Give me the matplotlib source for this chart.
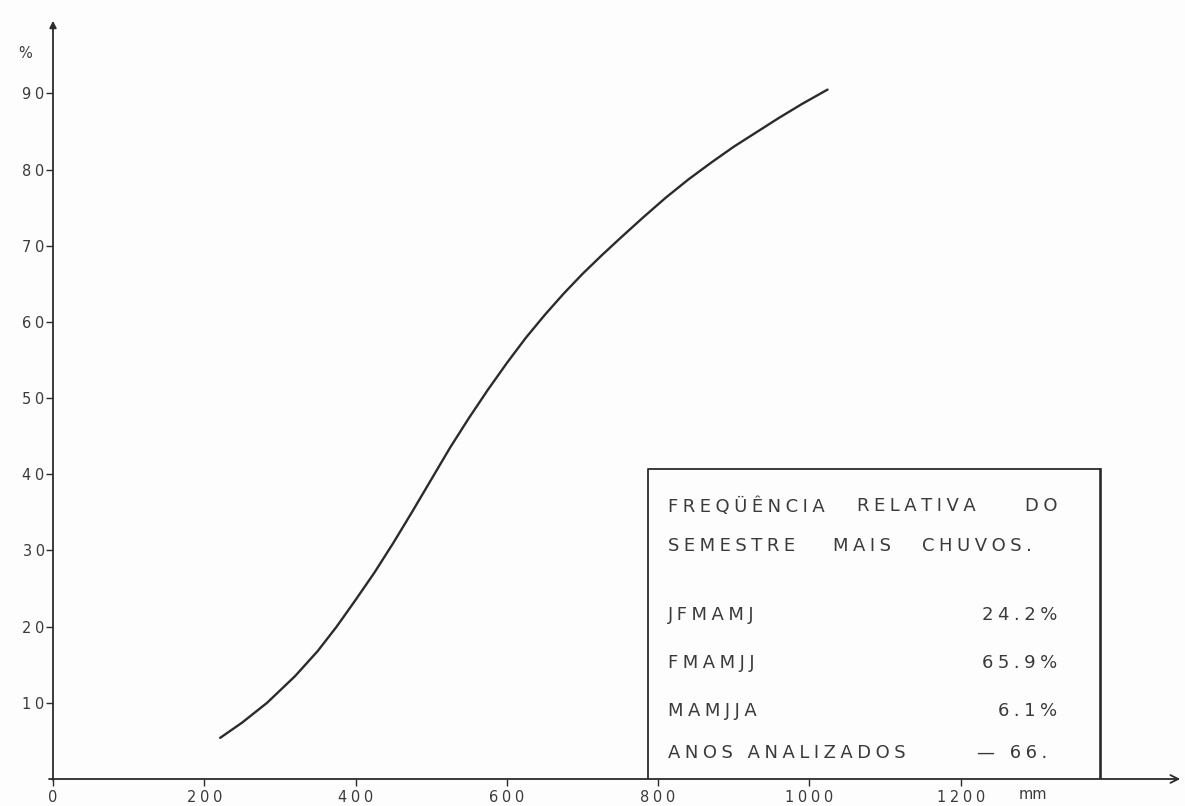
import matplotlib.pyplot as plt

# cumulative frequency curve (mm of rain, % of years)
rain_mm = [221, 250, 283, 320, 350, 375, 400, 425, 450, 475, 500, 525, 550,
           575, 600, 625, 650, 675, 700, 725, 750, 780, 810, 840, 870, 900,
           930, 960, 990, 1024]
freq_pct = [5.4, 7.4, 10.0, 13.5, 16.8, 20.0, 23.5, 27.1, 31.0, 35.1, 39.3,
            43.5, 47.4, 51.1, 54.6, 57.9, 60.9, 63.7, 66.3, 68.7, 71.0, 73.7,
            76.3, 78.7, 80.9, 83.0, 84.9, 86.8, 88.6, 90.5]

x_ticks = [0, 200, 400, 600, 800, 1000, 1200]
y_ticks = [10, 20, 30, 40, 50, 60, 70, 80, 90]

box_title = ['FREQÜÊNCIA', 'RELATIVA', 'DO']
box_title2 = ['SEMESTRE', 'MAIS', 'CHUVOS.']
semesters = ['JFMAMJ', 'FMAMJJ', 'MAMJJA']
semester_pct = ['24.2%', '65.9%', '6.1%']
years_label = 'ANOS ANALIZADOS'
years_value = '— 66.'

INK = '#2b2b2b'
TXT = '#3a3a3a'


def spaced(s, sp='\u2005'):
    # wide stencil-like lettering
    return sp.join(s)


fig = plt.figure(figsize=(11.85, 8.06), dpi=100, facecolor='#fdfdfd')
ax = fig.add_axes([53 / 1185, 27 / 806, 1130 / 1185, 761 / 806])
ax.set_facecolor('#fdfdfd')
ax.set_xlim(0, 1494)
ax.set_ylim(0, 99.9)

for side in ['top', 'right', 'left', 'bottom']:
    ax.spines[side].set_visible(False)

# axes drawn as arrows
ax.annotate('', xy=(1.0, 0), xytext=(-0.006, 0), xycoords='axes fraction',
            arrowprops=dict(arrowstyle='->', color=INK, lw=1.3,
                            mutation_scale=14))
ax.annotate('', xy=(0, 1.0), xytext=(0, -0.005), xycoords='axes fraction',
            arrowprops=dict(arrowstyle='-|>', color=INK, lw=1.3,
                            mutation_scale=10))

ax.set_xticks(x_ticks)
ax.set_xticklabels([spaced(str(v)) for v in x_ticks])
ax.set_yticks(y_ticks)
ax.set_yticklabels([spaced(str(v)) for v in y_ticks])
ax.tick_params(axis='x', direction='out', length=5, width=1.0, color=INK,
               labelsize=10.5, labelcolor=TXT, pad=3)
ax.tick_params(axis='y', direction='out', length=5, width=1.0, color=INK,
               labelsize=10.5, labelcolor=TXT, pad=1)

ax.text(-37, 95.3, '%', fontsize=10.5, color=TXT, ha='center', va='center',
        clip_on=False)
ax.text(1295, -2.1, 'mm', fontsize=10.5, color=TXT, ha='center', va='center',
        clip_on=False)

# the curve
ax.plot(rain_mm, freq_pct, color=INK, lw=1.7, solid_capstyle='round')

# info box (bottom edge is the x axis)
bx0, bx1, btop = 787, 1384, 40.7
ax.plot([bx0, bx0, bx1], [0, btop, btop], color=INK, lw=1.3)
ax.plot([bx1, bx1], [btop, 0], color=INK, lw=1.9)

fs = 13
sp = '\u2005'
tl, tr = 813, 1328
ax.text(tl, 35.8, spaced(box_title[0], sp), fontsize=fs, color=TXT,
        ha='left', va='center')
ax.text(1063, 35.8, spaced(box_title[1], sp), fontsize=fs, color=TXT,
        ha='left', va='center')
ax.text(tr, 35.8, spaced(box_title[2], sp), fontsize=fs, color=TXT,
        ha='right', va='center')
ax.text(tl, 30.6, spaced(box_title2[0], sp), fontsize=fs, color=TXT,
        ha='left', va='center')
ax.text(1031, 30.6, spaced(box_title2[1], sp), fontsize=fs, color=TXT,
        ha='left', va='center')
ax.text(1149, 30.6, spaced(box_title2[2], sp), fontsize=fs, color=TXT,
        ha='left', va='center')

for name, pct, yy in zip(semesters, semester_pct, [21.5, 15.2, 8.9]):
    ax.text(tl, yy, spaced(name, sp), fontsize=fs, color=TXT,
            ha='left', va='center')
    ax.text(tr, yy, spaced(pct, sp), fontsize=fs, color=TXT,
            ha='right', va='center')

ax.text(tl, 3.4, spaced(years_label, sp), fontsize=fs, color=TXT,
        ha='left', va='center')
ax.text(1315, 3.4, spaced(years_value, sp), fontsize=fs, color=TXT,
        ha='right', va='center')

fig.savefig('out.png', dpi=100, facecolor=fig.get_facecolor())
